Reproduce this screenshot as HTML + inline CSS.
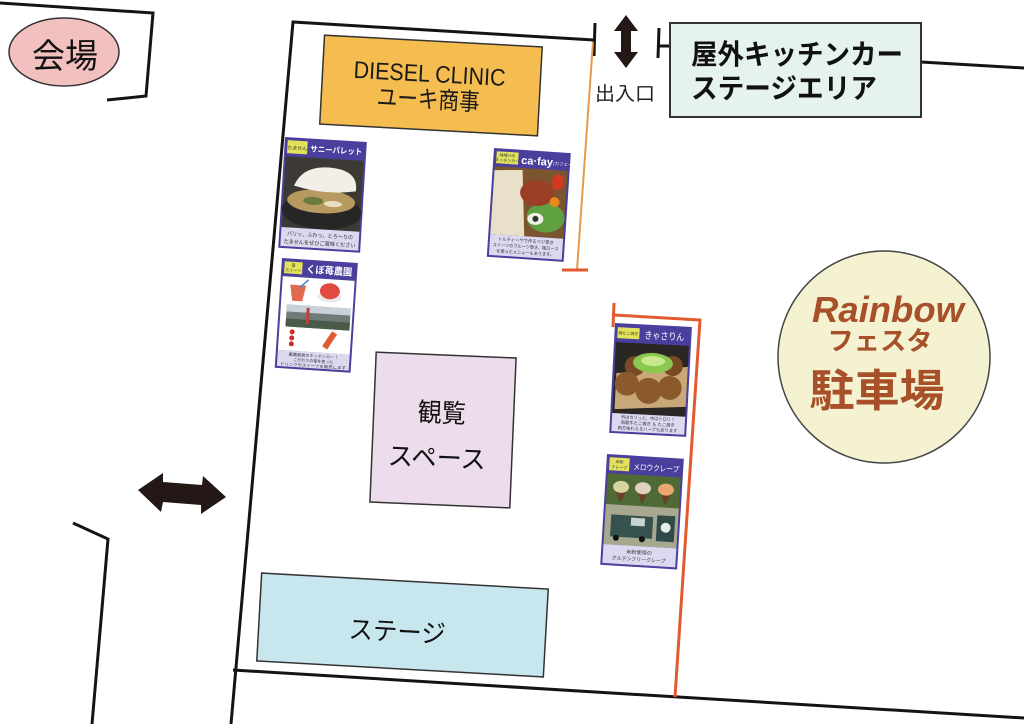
<!DOCTYPE html>
<html><head><meta charset="utf-8">
<style>
html,body{margin:0;padding:0;background:#fff;}
svg{display:block;}
text{font-family:"Liberation Sans","Noto Sans CJK JP",sans-serif;}
</style></head><body>
<svg width="1024" height="724" viewBox="0 0 1024 724" xmlns="http://www.w3.org/2000/svg">
<rect width="1024" height="724" fill="#fff"/>

<!-- walls -->
<g fill="none" stroke="#141414" stroke-width="3" stroke-linejoin="miter">
  <polyline points="0,3 153,13 146,96 107,100"/>
  <polyline points="231,724 293,22 594,40"/>
  <line x1="595" y1="23" x2="594" y2="56"/>
  <line x1="659" y1="28" x2="658" y2="58"/>
  <line x1="658" y1="46" x2="670" y2="46"/>
  <line x1="921" y1="62" x2="1024" y2="68"/>
  <line x1="233" y1="670" x2="1024" y2="718"/>
  <polyline points="73,523 108,539 92,724"/>
</g>

<!-- orange lines -->
<line x1="593" y1="42" x2="577" y2="270" stroke="#e8984c" stroke-width="2"/>
<line x1="562" y1="270" x2="588" y2="270" stroke="#e25a2e" stroke-width="3"/>
<line x1="614" y1="303" x2="613" y2="327" stroke="#e25a2e" stroke-width="3"/>
<polyline points="614,315 700,320 675,697" fill="none" stroke="#e25a2e" stroke-width="3"/>

<!-- arrows -->
<polygon fill="#231815" points="626,15 638,31 631,31 631,52 638,52 626,68 614,52 621,52 621,31 614,31"/>
<polygon fill="#231815" points="138,490 163,473 163,482 202,485 203,476 226,497 201,514 201,505 163,502 161,512"/>

<!-- 会場 -->
<ellipse cx="64" cy="52" rx="55" ry="34" fill="#f3c0c0" stroke="#333" stroke-width="1.5"/>
<text x="65" y="68" font-size="34" text-anchor="middle" fill="#111" textLength="66" lengthAdjust="spacingAndGlyphs">会場</text>

<!-- kitchen car box -->
<rect x="670" y="23" width="251" height="94" fill="#e6f2ef" stroke="#333" stroke-width="2"/>
<text x="691" y="64" font-size="28" font-weight="bold" fill="#111" textLength="212" lengthAdjust="spacingAndGlyphs">屋外キッチンカー</text>
<text x="691" y="98" font-size="28" font-weight="bold" fill="#111" textLength="186" lengthAdjust="spacingAndGlyphs">ステージエリア</text>

<!-- 出入口 -->
<text x="595" y="100" font-size="19" fill="#222" textLength="60" lengthAdjust="spacingAndGlyphs">出入口</text>

<!-- DIESEL CLINIC -->
<g transform="translate(431,85) rotate(3.1)">
  <rect x="-109" y="-44" width="218" height="89" fill="#f5bd4f" stroke="#333" stroke-width="1.5"/>
  <text x="-2" y="-3" font-size="24" text-anchor="middle" fill="#1a1a1a" textLength="152" lengthAdjust="spacingAndGlyphs">DIESEL CLINIC</text>
  <text x="-2" y="23" font-size="24" text-anchor="middle" fill="#1a1a1a" textLength="103" lengthAdjust="spacingAndGlyphs">ユーキ商事</text>
</g>

<!-- 観覧スペース -->
<g transform="translate(443,430) rotate(2.4)">
  <rect x="-70" y="-75" width="140" height="150" fill="#ecdcec" stroke="#333" stroke-width="1.5"/>
  <text x="-2" y="-8" font-size="26" text-anchor="middle" fill="#111" textLength="48" lengthAdjust="spacingAndGlyphs">観覧</text>
  <text x="-5" y="37" font-size="26" text-anchor="middle" fill="#111" textLength="98" lengthAdjust="spacingAndGlyphs">スペース</text>
</g>

<!-- ステージ -->
<g transform="translate(402.5,625) rotate(3.2)">
  <rect x="-143.5" y="-44" width="287" height="88" fill="#c8e6ee" stroke="#333" stroke-width="1.5"/>
  <text x="-5" y="16" font-size="26" text-anchor="middle" fill="#111" textLength="97" lengthAdjust="spacingAndGlyphs">ステージ</text>
</g>

<!-- Rainbow parking -->
<circle cx="884" cy="357" r="106" fill="#f4f2d0" stroke="#444" stroke-width="1.5"/>
<text x="888" y="322" font-size="36" font-weight="bold" font-style="italic" text-anchor="middle" fill="#a8502a" textLength="152" lengthAdjust="spacingAndGlyphs">Rainbow</text>
<text x="880" y="350" font-size="26" font-weight="bold" text-anchor="middle" fill="#a8502a" textLength="105" lengthAdjust="spacingAndGlyphs">フェスタ</text>
<text x="877" y="406" font-size="44" font-weight="bold" text-anchor="middle" fill="#a8502a" textLength="135" lengthAdjust="spacingAndGlyphs">駐車場</text>

<!-- Card 1 サニーパレット -->
<g transform="translate(285,137) rotate(3.5)">
  <rect x="0" y="0" width="82" height="111" fill="#4a3f9c"/>
  <rect x="3" y="3" width="20" height="13" fill="#e2e35a"/>
  <text x="13" y="12" font-size="5" text-anchor="middle" fill="#333">たません</text>
  <text x="26" y="13" font-size="8" font-weight="bold" fill="#fff" textLength="52" lengthAdjust="spacingAndGlyphs">サニーパレット</text>
  <rect x="2" y="19" width="78" height="71" fill="#3d3a36"/>
  <ellipse cx="41" cy="72" rx="40" ry="18" fill="#262626"/>
  <ellipse cx="40" cy="62" rx="34" ry="12" fill="#b89a60"/>
  <ellipse cx="32" cy="62" rx="10" ry="4" fill="#6a7a40"/>
  <ellipse cx="52" cy="64" rx="9" ry="3" fill="#e8e0c0"/>
  <path d="M12,48 Q20,26 50,28 Q76,30 74,50 Q44,56 12,48 Z" fill="#f2efe8"/>
  <rect x="2" y="90" width="78" height="19" fill="#dcd8f0"/>
  <text x="41" y="98" font-size="5.5" text-anchor="middle" fill="#333" textLength="66" lengthAdjust="spacingAndGlyphs">パリッ、ふわっ、とろ〜りの</text>
  <text x="41" y="106" font-size="5.5" text-anchor="middle" fill="#333" textLength="72" lengthAdjust="spacingAndGlyphs">たませんをぜひご賞味ください</text>
</g>

<!-- Card 2 ca·fay -->
<g transform="translate(494,148) rotate(3.8)">
  <rect x="0" y="0" width="77" height="109" fill="#4a3f9c"/>
  <rect x="3" y="3" width="22" height="12" fill="#e2e35a"/>
  <text x="14" y="8" font-size="4" text-anchor="middle" fill="#333">味噌汁の</text>
  <text x="14" y="13" font-size="4" text-anchor="middle" fill="#333">キッチンカー</text>
  <text x="28" y="14" font-size="11" font-weight="bold" fill="#fff">ca·fay</text>
  <text x="60" y="13" font-size="4.5" fill="#fff">(カフェイ)</text>
  <rect x="2" y="18" width="73" height="68" fill="#7b5430"/>
  <polygon points="2,22 30,20 36,86 2,86" fill="#e8e0c8"/>
  <ellipse cx="56" cy="66" rx="19" ry="15" fill="#5fa040"/>
  <ellipse cx="46" cy="42" rx="17" ry="13" fill="#9a3f25"/>
  <ellipse cx="66" cy="30" rx="6" ry="8" fill="#d03a20"/>
  <circle cx="64" cy="50" r="5" fill="#e88a20"/>
  <ellipse cx="46" cy="68" rx="8" ry="6" fill="#f0f0e8"/>
  <circle cx="46" cy="68" r="3" fill="#2a3a20"/>
  <rect x="2" y="86" width="73" height="21" fill="#dcd8f0"/>
  <text x="38" y="92" font-size="4.5" text-anchor="middle" fill="#333" textLength="56" lengthAdjust="spacingAndGlyphs">トルティーヤで作るベジ巻き</text>
  <text x="38" y="98" font-size="4.5" text-anchor="middle" fill="#333" textLength="66" lengthAdjust="spacingAndGlyphs">スイーツのフルーツ巻き、梅ロース</text>
  <text x="38" y="104" font-size="4.5" text-anchor="middle" fill="#333" textLength="58" lengthAdjust="spacingAndGlyphs">を使ったメニューもあります。</text>
</g>

<!-- Card 3 くぼ苺農園 -->
<g transform="translate(282,258) rotate(3.8)">
  <rect x="0" y="0" width="76" height="110" fill="#4a3f9c"/>
  <rect x="3" y="3" width="18" height="12" fill="#e2e35a"/>
  <text x="12" y="8" font-size="4" text-anchor="middle" fill="#333">苺</text>
  <text x="12" y="13" font-size="4" text-anchor="middle" fill="#333">スイーツ</text>
  <text x="25" y="13" font-size="10" font-weight="bold" fill="#fff" textLength="46" lengthAdjust="spacingAndGlyphs">くぼ苺農園</text>
  <rect x="2" y="18" width="72" height="74" fill="#fff"/>
  <polygon points="10,26 26,26 23,42 13,42" fill="#e06a50"/>
  <line x1="20" y1="28" x2="28" y2="20" stroke="#3a8ad0" stroke-width="1.5"/>
  <ellipse cx="50" cy="36" rx="12" ry="5" fill="#e8e8ec"/>
  <ellipse cx="50" cy="30" rx="10" ry="8" fill="#e04a40"/>
  <rect x="8" y="46" width="64" height="22" fill="#707a78"/>
  <rect x="8" y="46" width="64" height="7" fill="#c8d0d8"/>
  <rect x="8" y="60" width="64" height="8" fill="#4a5a48"/>
  <rect x="28" y="48" width="3" height="16" fill="#c04040"/>
  <circle cx="15" cy="73" r="2.5" fill="#d02a2a"/>
  <circle cx="15" cy="79" r="2.5" fill="#d02a2a"/>
  <circle cx="15" cy="85" r="2.5" fill="#d02a2a"/>
  <rect x="50" y="70" width="6" height="18" fill="#e05a30" transform="rotate(30 53 79)"/>
  <rect x="2" y="92" width="72" height="16" fill="#dcd8f0"/>
  <text x="38" y="97" font-size="4" text-anchor="middle" fill="#333" textLength="50" lengthAdjust="spacingAndGlyphs">農園直営のキッチンカー！</text>
  <text x="38" y="102" font-size="4" text-anchor="middle" fill="#333" textLength="40" lengthAdjust="spacingAndGlyphs">こだわりの苺を使った</text>
  <text x="38" y="107" font-size="4" text-anchor="middle" fill="#333" textLength="66" lengthAdjust="spacingAndGlyphs">ドリンクやスイーツを販売します</text>
</g>

<!-- Card 4 きゃさりん -->
<g transform="translate(615,323) rotate(3)">
  <rect x="0" y="0" width="77" height="110" fill="#4a3f9c"/>
  <rect x="3" y="4" width="22" height="11" fill="#e2e35a"/>
  <text x="14" y="11" font-size="4" text-anchor="middle" fill="#333">焼たこ焼き</text>
  <text x="30" y="14" font-size="10" fill="#fff" textLength="40" lengthAdjust="spacingAndGlyphs">きゃさりん</text>
  <rect x="2" y="19" width="73" height="71" fill="#2a2624"/>
  <polygon points="4,50 75,40 75,80 4,86" fill="#c8a878"/>
  <circle cx="22" cy="42" r="10" fill="#7a4a24"/>
  <circle cx="60" cy="40" r="10" fill="#7a4a24"/>
  <circle cx="15" cy="60" r="12" fill="#8a5a2c"/>
  <circle cx="37" cy="66" r="13" fill="#8a5a2c"/>
  <circle cx="58" cy="62" r="12" fill="#8a5a2c"/>
  <ellipse cx="40" cy="38" rx="20" ry="10" fill="#8ac850"/>
  <ellipse cx="40" cy="36" rx="12" ry="5" fill="#c8e890"/>
  <rect x="2" y="90" width="73" height="18" fill="#dcd8f0"/>
  <text x="38" y="95" font-size="4.5" text-anchor="middle" fill="#333" textLength="54" lengthAdjust="spacingAndGlyphs">外はカリっと、中はトロリ！</text>
  <text x="38" y="100.5" font-size="4.5" text-anchor="middle" fill="#333" textLength="54" lengthAdjust="spacingAndGlyphs">和歌牛たこ焼き ＆ たこ焼き</text>
  <text x="38" y="106" font-size="4.5" text-anchor="middle" fill="#333" textLength="60" lengthAdjust="spacingAndGlyphs">両方味わえるハーブもあります</text>
</g>

<!-- Card 5 メロウクレープ -->
<g transform="translate(607,454) rotate(3.5)">
  <rect x="0" y="0" width="77" height="111" fill="#4a3f9c"/>
  <rect x="3" y="3" width="20" height="13" fill="#e2e35a"/>
  <text x="13" y="8.5" font-size="4" text-anchor="middle" fill="#333">米粉</text>
  <text x="13" y="14" font-size="4" text-anchor="middle" fill="#333">クレープ</text>
  <text x="27" y="14" font-size="8" fill="#fff" textLength="46" lengthAdjust="spacingAndGlyphs">メロウクレープ</text>
  <rect x="2" y="19" width="73" height="71" fill="#4f6a35"/>
  <rect x="2" y="50" width="73" height="40" fill="#a8a890"/>
  <polygon points="10,34 22,34 16,48" fill="#6a4028"/>
  <ellipse cx="16" cy="32" rx="8" ry="6" fill="#d8d4a0"/>
  <polygon points="32,34 44,34 38,48" fill="#6a4028"/>
  <ellipse cx="38" cy="32" rx="8" ry="6" fill="#e0d0c0"/>
  <polygon points="55,34 67,34 61,48" fill="#6a4028"/>
  <ellipse cx="61" cy="32" rx="8" ry="6" fill="#e8a870"/>
  <rect x="8" y="60" width="42" height="22" fill="#35524e"/>
  <rect x="28" y="62" width="14" height="8" fill="#c8d4d0"/>
  <circle cx="14" cy="83" r="3" fill="#111"/>
  <circle cx="40" cy="83" r="3" fill="#111"/>
  <rect x="54" y="58" width="18" height="26" fill="#2f4a48"/>
  <circle cx="63" cy="70" r="5" fill="#e8eee8"/>
  <rect x="2" y="90" width="73" height="19" fill="#dcd8f0"/>
  <text x="38" y="98" font-size="5" text-anchor="middle" fill="#333" textLength="26" lengthAdjust="spacingAndGlyphs">米粉使用の</text>
  <text x="38" y="105" font-size="5" text-anchor="middle" fill="#333" textLength="54" lengthAdjust="spacingAndGlyphs">グルテンフリークレープ</text>
</g>

</svg>
</body></html>
